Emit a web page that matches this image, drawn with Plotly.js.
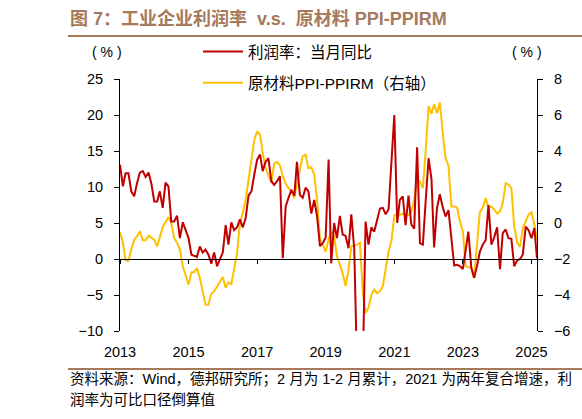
<!DOCTYPE html>
<html>
<head>
<meta charset="utf-8">
<script src="https://cdn.plot.ly/plotly-3.0.1.min.js"></script>
<style>
html,body{margin:0;padding:0;background:#ffffff;}
#chart{width:582px;height:419px;}
</style>
</head>
<body>
<div id="chart"></div>
<script>
// ---- data (monthly, Jan 2013 -> Mar 2025) ----
const startYear = 2013;
const profitMarginYoY = [
  13.1,10.1,11.9,11.9,9.4,8.7,10.5,12.0,12.2,11.4,12.0,10.5,
  8.0,8.0,9.4,7.1,10.6,10.1,5.2,5.2,6.0,2.9,5.1,4.1,
  2.9,0.6,0.5,0.3,1.75,0.9,1.3,0.6,-0.65,0.9,-1.0,0.0,
  0.9,4.7,2.0,5.1,4.0,4.4,5.5,4.4,5.7,8.8,9.4,11.7,
  13.8,14.5,12.2,13.5,14.0,10.8,10.3,10.8,11.5,0.1,7.3,8.5,
  9.6,8.8,13.5,8.9,8.5,9.9,9.4,6.3,8.2,6.0,1.8,2.2,
  3.0,13.8,-0.6,5.0,2.9,6.0,3.4,3.2,1.5,6.2,1.5,-15,
  -20,-15,5.2,2.0,4.4,3.8,5.4,7.0,7.1,6.2,6.9,13.0,
  20.0,5.0,8.2,8.7,4.7,8.8,4.8,4.2,15.5,2.2,2.0,8.0,
  14.0,11.1,1.6,7.1,9.0,7.2,5.9,6.8,3.0,-0.9,-0.8,-1.0,
  -1.4,1.3,3.8,-1.2,-2.6,-1.0,1.0,2.0,2.6,7.5,2.0,3.0,
  4.4,-1.4,3.6,4.1,2.9,2.8,-1.0,-0.2,0.0,0.6,4.5,4.0,
  2.9,4.3,0.1
];
const ppiMinusPpirm = [
  -0.52,-1.1,-2.08,-2.1,-1.48,-0.93,-0.74,-0.46,-0.96,-0.96,-0.7,-0.83,
  -0.93,-1.3,-0.74,-0.22,0.04,0.33,0.0,-0.83,-1.11,-1.48,-2.41,-2.96,
  -3.43,-2.74,-2.74,-2.5,-3.05,-3.8,-4.54,-4.54,-3.93,-3.8,-3.52,-3.24,
  -3.0,-3.6,-3.3,-3.4,-2.6,-1.67,0.0,0.56,1.3,2.4,3.7,4.6,
  5.1,4.9,3.9,3.05,2.63,2.26,3.3,3.4,3.2,2.6,2.2,1.94,
  1.76,1.39,2.2,3.05,3.7,3.8,3.05,3.1,2.7,1.3,-0.9,-1.2,
  -1.6,-0.9,-0.46,-0.74,-1.85,-2.3,-2.8,-3.5,-2.6,-1.3,-1.25,-1.2,
  -1.1,-3.9,-5.0,-4.7,-4.0,-3.7,-3.9,-3.8,-3.5,-2.6,-1.6,-1.0,
  0.4,0.52,0.45,0.52,0.4,0.45,0.6,1.3,2.37,2.3,1.94,4.0,
  6.5,6.07,6.6,6.1,6.7,5.0,3.6,3.2,0.92,0.92,0.85,0.1,
  -0.46,-2.4,-2.44,-2.5,-3.06,-1.3,0.6,0.83,1.39,0.83,0.92,0.74,
  0.52,0.65,1.11,2.22,2.13,1.94,-0.19,-1.07,-1.33,-0.28,0.09,0.46,
  0.59,-0.09,-0.93
];
const yearTickLabels = ['2013','2015','2017','2019','2021','2023','2025'];
const seriesNames = ['利润率：当月同比','原材料PPI-PPIRM（右轴）'];

// month dates built from the start year
const months = profitMarginYoY.map(function(_, i){
  const y = startYear + Math.floor(i / 12);
  const m = (i % 12) + 1;
  return y + '-' + (m < 10 ? '0' + m : m) + '-01';
});
const yearTickVals = yearTickLabels.map(function(y){ return y + '-01-01'; });
const xRange = [months[0], months[months.length - 1]];

const latinFont = 'Liberation Sans, Arial, Noto Sans CJK SC, sans-serif';
const cjkFont = 'Liberation Sans, Noto Sans CJK SC, sans-serif';
const brown = '#A5795A';

// plot-area geometry helpers (paper coordinates from pixel positions)
const W = 582, H = 419, ML = 120, MR = 45, MT = 79, MB = 88;
const PW = W - ML - MR, PH = H - MT - MB;
function px(x){ return (x - ML) / PW; }
function py(y){ return (H - MB - y) / PH; }

const traces = [
  {
    x: months, y: profitMarginYoY, name: seriesNames[0],
    type: 'scatter', mode: 'lines', xaxis: 'x2', yaxis: 'y',
    line: {color: '#C00000', width: 2}, legendgroup: 'a'
  },
  {
    x: months, y: ppiMinusPpirm, name: seriesNames[1],
    type: 'scatter', mode: 'lines', xaxis: 'x', yaxis: 'y2',
    line: {color: '#FFC000', width: 2}, legendgroup: 'b'
  }
];

const tickFont = {family: latinFont, size: 14.5, color: '#000'};

const layout = {
  width: W, height: H,
  margin: {l: ML, r: MR, t: MT, b: MB, pad: 0},
  paper_bgcolor: '#fff', plot_bgcolor: 'rgba(0,0,0,0)',
  showlegend: true,
  title: {
    text: '<b>图 7：工业企业利润率  v.s.  原材料 PPI-PPIRM</b>',
    x: 70 / W, xanchor: 'left', xref: 'container',
    y: 1 - 19 / H, yanchor: 'middle', yref: 'container',
    font: {family: cjkFont, size: 18, color: brown}
  },
  xaxis: {
    type: 'date', range: xRange,
    tickvals: yearTickVals, ticktext: yearTickLabels,
    showline: false, ticks: '', showgrid: false, zeroline: false,
    tickfont: tickFont, ticklabelstandoff: 10
  },
  xaxis2: {
    type: 'date', range: xRange, overlaying: 'x', anchor: 'free',
    position: 10 / 35, side: 'bottom',
    tickvals: yearTickVals, showticklabels: false,
    showline: true, linecolor: '#000', linewidth: 1,
    ticks: 'outside', ticklen: 4, tickcolor: '#000', tickwidth: 1,
    showgrid: false, zeroline: false
  },
  yaxis: {
    range: [-10, 25], dtick: 5, tick0: 0,
    showline: true, linecolor: '#000', linewidth: 1,
    ticks: 'outside', ticklen: 5, tickcolor: '#000',
    showgrid: false, zeroline: false,
    tickfont: tickFont, ticklabelstandoff: 8
  },
  yaxis2: {
    range: [-6, 8], dtick: 2, tick0: 0, overlaying: 'y', side: 'right', anchor: 'x',
    showline: true, linecolor: '#000', linewidth: 1,
    ticks: 'outside', ticklen: 5, tickcolor: '#000',
    showgrid: false, zeroline: false,
    tickfont: tickFont, ticklabelstandoff: 8
  },
  legend: {
    x: px(198), xanchor: 'left', y: py(35), yanchor: 'top',
    bgcolor: 'rgba(0,0,0,0)', borderwidth: 0,
    font: {family: cjkFont, size: 15.5, color: '#000'},
    tracegroupgap: 8, itemwidth: 40, traceorder: 'grouped'
  },
  shapes: [
    {type: 'line', xref: 'paper', yref: 'paper', x0: px(68), x1: px(582), y0: py(36), y1: py(36),
     line: {color: brown, width: 2}},
    {type: 'line', xref: 'paper', yref: 'paper', x0: px(68), x1: px(582), y0: py(369), y1: py(369),
     line: {color: brown, width: 2}}
  ],
  annotations: [
    {text: '( % )', xref: 'paper', yref: 'paper', x: px(107), y: py(52), xanchor: 'center', yanchor: 'middle',
     showarrow: false, font: {family: latinFont, size: 14, color: '#000'}},
    {text: '( % )', xref: 'paper', yref: 'paper', x: px(527), y: py(52), xanchor: 'center', yanchor: 'middle',
     showarrow: false, font: {family: latinFont, size: 14, color: '#000'}},
    {text: '资料来源：Wind，德邦研究所；2 月为 1-2 月累计，2021 为两年复合增速，利', xref: 'paper', yref: 'paper',
     x: px(68), y: py(379), xanchor: 'left', yanchor: 'middle', showarrow: false,
     font: {family: cjkFont, size: 14.5, color: '#000'}},
    {text: '润率为可比口径倒算值', xref: 'paper', yref: 'paper',
     x: px(68), y: py(400), xanchor: 'left', yanchor: 'middle', showarrow: false,
     font: {family: cjkFont, size: 14.5, color: '#000'}}
  ]
};

Plotly.newPlot('chart', traces, layout, {staticPlot: true, displayModeBar: false});
</script>
</body>
</html>
